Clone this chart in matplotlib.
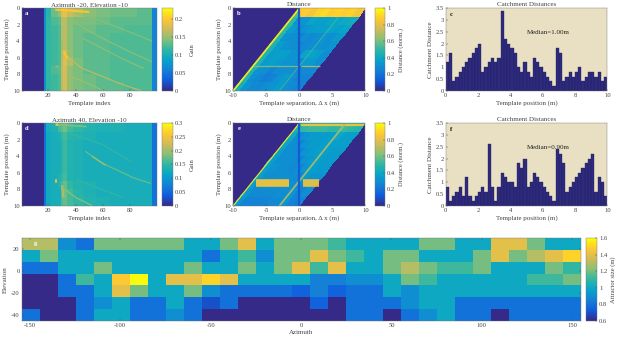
import numpy as np
import matplotlib
matplotlib.use('Agg')
import matplotlib.pyplot as plt
from matplotlib.colors import LinearSegmentedColormap, Normalize

plt.rcParams['font.family'] = ['Liberation Serif', 'DejaVu Serif']
TXT = '#444444'
W, H = 617, 338
TICK = 4.7
LAB = 5.0
parula = LinearSegmentedColormap.from_list('parula', ['#352a87', '#0f5cdd', '#1481d6', '#06a4ca', '#2eb7a4',
                                                      '#87bf77', '#d1bb59', '#fec832', '#f9fb0e'])

# ---- data ----
gain_edges = [0.5, 17, 18.5, 22, 27, 29, 31, 34, 38, 45, 55, 65, 75, 85, 96, 99.5]
pos_edges = list(range(11))
gain_a = [
    [0, .07, .11, .135, .15, .18, .185, .17, .16, .145, .14, .135, .135, .13, .06],
    [0, .07, .115, .125, .13, .165, .165, .145, .14, .14, .135, .13, .13, .13, .06],
    [0, .07, .115, .12, .125, .16, .165, .145, .135, .135, .13, .13, .125, .125, .06],
    [0, .07, .115, .12, .125, .16, .165, .145, .135, .13, .13, .125, .125, .125, .06],
    [0, .07, .115, .12, .125, .155, .165, .145, .135, .13, .13, .125, .125, .125, .06],
    [0, .07, .115, .12, .125, .16, .175, .15, .135, .13, .13, .125, .125, .125, .06],
    [0, .07, .115, .12, .125, .165, .18, .16, .14, .13, .13, .125, .125, .125, .06],
    [0, .07, .115, .125, .13, .165, .175, .15, .14, .13, .13, .125, .125, .125, .06],
    [0, .07, .115, .12, .125, .165, .175, .15, .14, .135, .13, .125, .125, .125, .06],
    [0, .07, .115, .12, .125, .165, .175, .15, .14, .135, .13, .13, .125, .125, .06],
]
gain_d = [
    [0, .06, .13, .135, .16, .17, .18, .16, .15, .14, .135, .135, .13, .13, .06],
    [0, .06, .125, .13, .135, .15, .16, .145, .14, .135, .13, .13, .13, .13, .06],
    [0, .06, .125, .13, .13, .145, .155, .14, .135, .13, .13, .13, .13, .13, .06],
    [0, .06, .125, .13, .13, .145, .155, .14, .135, .13, .13, .13, .13, .13, .06],
    [0, .06, .125, .13, .13, .145, .155, .14, .135, .13, .13, .13, .13, .13, .06],
    [0, .06, .125, .13, .13, .145, .155, .14, .135, .13, .13, .13, .13, .13, .06],
    [0, .06, .125, .13, .135, .15, .16, .14, .135, .13, .13, .13, .13, .13, .06],
    [0, .06, .125, .13, .14, .16, .175, .15, .14, .135, .13, .13, .13, .13, .06],
    [0, .06, .125, .13, .13, .165, .18, .16, .145, .135, .13, .13, .13, .13, .06],
    [0, .06, .125, .13, .13, .165, .175, .16, .15, .14, .135, .13, .13, .13, .06],
]
streaks_a = [
    ([25, 35, 50], [0.15, 0.25, 0.45], .2, 1.6),
    ([31, 36, 45, 60, 75, 88], [5.2, 6.2, 7.3, 8.3, 9.3, 10], .17, 0.8),
    ([31, 34], [5.2, 6.1], .2, 1.6),
    ([38, 50, 65, 80, 96], [1.5, 2.8, 4.1, 5.3, 6.5], .15, 0.8),
    ([45, 60, 75, 90], [3.6, 4.9, 6.2, 7.3], .15, 0.8),
    ([40, 60, 80, 96], [0.6, 1.6, 2.9, 4.0], .145, 0.8),
    ([35, 50, 60], [8.2, 9.2, 10], .155, 0.8),
    ([25, 27], [7, 7], .165, 1.0),
]
streaks_d = [
    ([25, 27], [0.1, 0.1], .26, 2.0),
    ([27, 35, 48], [0.2, 0.25, 0.4], .19, 1.2),
    ([24.5, 26.5], [7.0, 7.0], .25, 2.6),
    ([30, 31], [7.5, 9], .21, 1.6),
    ([47, 60, 72, 82, 95], [3.4, 4.9, 5.8, 6.6, 7.3], .18, 0.9),
    ([52, 62], [4.0, 5.1], .2, 1.1),
    ([32, 40, 52], [8.0, 9.0, 10], .19, 1.0),
    ([35, 60, 80], [1.2, 2.6, 4.6], .155, 0.7),
    ([40, 60, 75], [6.8, 8.1, 9.0], .155, 0.7),
]
other_edges = list(range(11))
# rows: template position band, columns: other template band; the diagonal cell is split at zero separation
dist_b = [
    [.88, .88, .85, .90, .92, .88, .90, .88, .90, .85],
    [.50, .30, .32, .38, .36, .36, .38, .38, .40, .42],
    [.50, .35, .28, .32, .34, .36, .36, .38, .36, .38],
    [.48, .32, .30, .25, .30, .28, .30, .32, .30, .34],
    [.46, .36, .32, .30, .26, .28, .30, .32, .30, .32],
    [.46, .35, .36, .36, .32, .28, .38, .38, .36, .30],
    [.46, .34, .36, .34, .32, .32, .28, .34, .34, .30],
    [.46, .32, .30, .26, .30, .30, .30, .26, .28, .28],
    [.46, .30, .27, .24, .26, .32, .34, .30, .26, .26],
    [.44, .32, .28, .27, .30, .32, .34, .30, .28, .26],
]
diag_left_b = [.55, .32, .32, .30, .30, .32, .30, .28, .26, .26]
dist_e = [
    [.45, .50, .52, .52, .52, .50, .50, .52, .50, .48],
    [.40, .28, .32, .34, .34, .34, .36, .40, .36, .36],
    [.38, .30, .25, .32, .34, .34, .36, .36, .36, .36],
    [.36, .30, .30, .26, .32, .34, .36, .36, .34, .34],
    [.36, .30, .30, .30, .26, .32, .34, .36, .34, .34],
    [.36, .32, .30, .30, .28, .26, .32, .36, .34, .34],
    [.36, .30, .30, .30, .30, .30, .26, .34, .32, .32],
    [.34, .28, .30, .30, .30, .30, .30, .30, .26, .30],
    [.34, .28, .28, .28, .28, .30, .30, .32, .26, .30],
    [.32, .26, .26, .26, .26, .28, .28, .32, .26, .26],
]
diag_left_e = [.45, .30, .28, .28, .28, .30, .28, .28, .26, .24]
# (separation, position) polyline, value, width
streaks_b = [
    ([0, -10], [0, 10], .97, 1.3),
    ([-6.8, -0.2], [6.95, 6.95], .62, 0.9),
    ([0.2, 3.1], [6.95, 6.95], .70, 0.9),
    ([5.9, 0, -3], [1.1, 7, 10], .55, 0.6),
    ([0, 0], [0, 10], .10, 1.6),
]
streaks_e = [
    ([0, -10], [0, 10], .95, 0.9),
    ([0.3, 9.8], [0.2, 0.2], .85, 1.6),
    ([-6.5, -1.6], [7.25, 7.25], .86, 5.5),
    ([0.5, 3.0], [7.25, 7.25], .84, 5.5),
    ([6.9, 0, -3], [0.1, 7, 10], .68, 1.3),
    ([0, 0], [0, 10], .12, 1.6),
]
catchment_positions = [0.2 * i for i in range(50)]
catchment_c = [1.2, 1.6, .4, .6, .8, 1, 1.2, 1.4, 1.6, 1.8, 2, .8, 1, 1.2, 1.4, 1.2, 1.4, 3.4, 2.2, 2, 1.8, 1.6, 1, .8, 1.2,
               .8, .6, 1.4, 1.2, 1, .8, .6, .4, .2, 1.8, 1.6, .4, .6, .8, .6, .8, 1, .4, .6, .8, .8, .6, .8, .4, .6]
catchment_f = [.8, .2, .4, .6, .8, .4, 1.2, .4, .2, .4, .6, .8, .6, 2.6, .8, .2, .8, 1.4, 1.2, 1, 1, .8, 1.8, 1.6, 2,
               .8, 1, 1.4, 1.2, 1, .8, .6, .4, .2, 2.4, 2.2, 1.8, .6, .8, 1, 1.2, 1.4, 1.6, 1.8, 2, 2.2, .6, 1.2, 1, .4]
azimuth_edges = [-154.5 + 9.98 * i for i in range(32)]
elevation_edges = [30 - 10.72 * i for i in range(8)]
attractor_by_azimuth = [
    [1.3, 1.0, .8, .6, .6, .6, .8], [1.3, 1.2, .8, .6, .6, .6, .6], [.9, 1.0, 1.0, .8, .8, .6, .6],
    [.8, 1.0, 1.0, 1.12, .8, .8, .8], [1.2, 1.0, 1.2, 1.0, 1.0, .9, 1.0], [1.2, 1.0, 1.0, 1.47, 1.4, 1.0, 1.0],
    [1.2, 1.0, 1.0, 1.6, 1.2, .8, .8], [1.2, 1.0, 1.0, 1.0, 1.0, .8, .8], [1.2, 1.0, 1.0, 1.4, 1.0, 1.0, .9],
    [1.0, 1.0, 1.2, 1.4, 1.2, .8, .8], [1.0, .8, 1.0, 1.5, .9, .7, .6], [1.2, 1.0, 1.0, 1.4, .8, .8, .6],
    [1.4, 1.12, 1.2, 1.0, .8, .6, .6], [1.0, .9, 1.0, 1.0, .8, .6, .6], [1.2, 1.2, 1.2, 1.0, .8, .6, .6],
    [1.2, 1.2, 1.4, 1.0, .75, .6, .6], [1.2, 1.4, 1.12, .85, .85, .75, .6], [1.12, 1.2, 1.4, .85, .75, .6, .6],
    [1.0, 1.12, 1.0, .9, .8, .8, .8], [1.0, 1.0, 1.0, .9, .8, .8, .8], [1.0, 1.2, 1.2, 1.0, 1.0, .8, .6],
    [1.0, 1.2, 1.3, 1.2, .9, .9, .8], [1.2, 1.0, 1.2, 1.12, 1.0, 1.0, .9], [1.2, 1.0, 1.12, 1.0, 1.0, 1.0, 1.0],
    [1.0, 1.0, 1.12, 1.0, 1.0, .8, .8], [1.0, 1.2, 1.2, 1.0, 1.0, .8, .8], [1.4, 1.4, 1.0, 1.0, 1.0, .8, .6],
    [1.4, 1.2, 1.0, 1.0, 1.0, .8, .8], [1.2, 1.3, 1.0, 1.12, 1.0, .8, .8], [1.0, 1.4, 1.2, 1.12, 1.0, .8, .8],
    [1.0, 1.5, 1.1, 1.2, 1.0, .8, .8],
]


def axpx(l, t, r, b):
    return plt.gcf().add_axes([l / W, 1 - b / H, (r - l) / W, (b - t) / H])


def style(ax):
    ax.tick_params(direction='in', length=1.5, width=0.3, pad=1.5, labelsize=TICK, colors=TXT, top=False, right=False)
    for s in ax.spines.values():
        s.set_linewidth(0.3)
        s.set_color('#777777')


def cbar(mesh, l, t, r, b, ticks, labels, label):
    cax = axpx(l, t, r, b)
    cb = plt.gcf().colorbar(mesh, cax=cax)
    cb.set_ticks(ticks, labels=labels)
    cb.ax.tick_params(direction='in', length=1.2, width=0.3, pad=1.5, labelsize=TICK, colors=TXT)
    cb.outline.set_linewidth(0.3)
    cb.outline.set_edgecolor('#777777')
    cb.set_label(label, fontsize=TICK, color=TXT, labelpad=2)


def draw_streaks(ax, streaks, norm):
    for xs, ys, v, lw in streaks:
        ax.plot(xs, ys, color=parula(norm(v)), lw=lw, alpha=.9, solid_capstyle='butt', solid_joinstyle='round')


def gain_panel(t, b, grid, streaks, vmax, title, tag, ticks, labels):
    ax = axpx(21.7, t, 157, b)
    norm = Normalize(0, vmax)
    m = ax.pcolormesh(gain_edges, pos_edges, np.array(grid), cmap=parula, norm=norm)
    draw_streaks(ax, streaks, norm)
    ax.set_xlim(0.5, 99.5)
    ax.set_ylim(10, 0)
    ax.set_xticks([20, 40, 60, 80])
    ax.set_yticks([0, 2, 4, 6, 8, 10])
    style(ax)
    ax.set_xlabel('Template index', fontsize=LAB, color=TXT, labelpad=2)
    ax.set_ylabel('Template position (m)', fontsize=LAB, color=TXT, labelpad=2)
    ax.set_title(title, fontsize=LAB, color=TXT, pad=1.5)
    ax.text(3, 0.6, tag, color='white', fontsize=TICK, fontweight='bold', va='center')
    cbar(m, 162.3, t, 173, b, ticks, labels, 'Gain')


def dist_panel(t, b, grid, diag_left, streaks, tag):
    ax = axpx(233.3, t, 365.3, b)
    ax.set_facecolor(parula(0.0))
    norm = Normalize(0, 1)
    O, P = np.meshgrid(np.array(other_edges, float), np.array(pos_edges, float))
    S = O - P
    left = np.array(grid, float)
    np.fill_diagonal(left, diag_left)
    m = ax.pcolormesh(np.clip(S, 0, None), P, np.array(grid), cmap=parula, norm=norm)
    ax.pcolormesh(np.clip(S, None, 0), P, left, cmap=parula, norm=norm)
    draw_streaks(ax, streaks, norm)
    ax.set_xlim(-10, 10)
    ax.set_ylim(10, 0)
    ax.set_xticks([-10, -5, 0, 5, 10], labels=['-10', '-5', '0', '5', '10'])
    ax.set_yticks([0, 2, 4, 6, 8, 10])
    style(ax)
    ax.set_xlabel('Template separation, Δ x (m)', fontsize=LAB, color=TXT, labelpad=2)
    ax.set_ylabel('Template position (m)', fontsize=LAB, color=TXT, labelpad=2)
    ax.set_title('Distance', fontsize=LAB, color=TXT, pad=1.5)
    ax.text(-9.4, 0.6, tag, color='white', fontsize=TICK, fontweight='bold', va='center')
    cbar(m, 374.7, t, 385, b, [0, .2, .4, .6, .8, 1], ['0', '0.2', '0.4', '0.6', '0.8', '1'], 'Distance (norm.)')


def bar_panel(t, b, values, tag, median):
    ax = axpx(445.7, t, 607.3, b)
    ax.set_facecolor('#E9DFC2')
    ax.bar(catchment_positions, values, width=0.2, align='edge', color='#2E2A7C', edgecolor='#221e62', linewidth=0.25)
    ax.set_xlim(0, 10)
    ax.set_ylim(0, 3.5)
    ax.set_xticks([0, 2, 4, 6, 8, 10])
    ax.set_yticks([0, .5, 1, 1.5, 2, 2.5, 3, 3.5], labels=['0', '0.5', '1', '1.5', '2', '2.5', '3', '3.5'])
    style(ax)
    ax.set_xlabel('Template position (m)', fontsize=LAB, color=TXT, labelpad=2)
    ax.set_ylabel('Catchment Distance', fontsize=LAB, color=TXT, labelpad=2)
    ax.set_title('Catchment Distances', fontsize=LAB, color=TXT, pad=1.5)
    ax.text(0.25, 3.25, tag, color='#111111', fontsize=TICK, fontweight='bold', va='center')
    ax.text(5.0, 2.48, median, color='#222222', fontsize=LAB, va='center')


fig = plt.figure(figsize=(W / 100, H / 100), dpi=100)
gain_panel(8.3, 90.7, gain_a, streaks_a, .23, 'Azimuth -20, Elevation -10', 'a',
           [0, .05, .1, .15, .2], ['0', '0.05', '0.1', '0.15', '0.2'])
gain_panel(123.3, 205.7, gain_d, streaks_d, .3, 'Azimuth 40, Elevation -10', 'd',
           [0, .05, .1, .15, .2, .25, .3], ['0', '0.05', '0.1', '0.15', '0.2', '0.25', '0.3'])
dist_panel(8.3, 90.7, dist_b, diag_left_b, streaks_b, 'b')
dist_panel(123.3, 205.7, dist_e, diag_left_e, streaks_e, 'e')
bar_panel(8.3, 90.7, catchment_c, 'c', 'Median=1.00m')
bar_panel(123.3, 205.7, catchment_f, 'f', 'Median=0.90m')

ax = axpx(21.7, 238.3, 581, 320.7)
m = ax.pcolormesh(azimuth_edges, elevation_edges, np.array(attractor_by_azimuth).T, cmap=parula, vmin=.6, vmax=1.6)
ax.set_xlim(azimuth_edges[0], azimuth_edges[-1])
ax.set_ylim(elevation_edges[-1], elevation_edges[0])
ax.set_xticks([-150, -100, -50, 0, 50, 100, 150], labels=['-150', '-100', '-50', '0', '50', '100', '150'])
ax.set_yticks([-40, -20, 0, 20], labels=['-40', '-20', '0', '20'])
style(ax)
ax.tick_params(top=True, right=True)
ax.set_xlabel('Azimuth', fontsize=LAB, color=TXT, labelpad=1.5)
ax.set_ylabel('Elevation', fontsize=LAB, color=TXT, labelpad=2)
ax.text(-147, 25.5, 'g', color='white', fontsize=TICK, fontweight='bold', va='center', ha='center')
cbar(m, 586.3, 238.3, 597, 320.7, [.6, .8, 1, 1.2, 1.4, 1.6], ['0.6', '0.8', '1', '1.2', '1.4', '1.6'], 'Attractor size (m)')

fig.savefig('out.png', dpi=100)
